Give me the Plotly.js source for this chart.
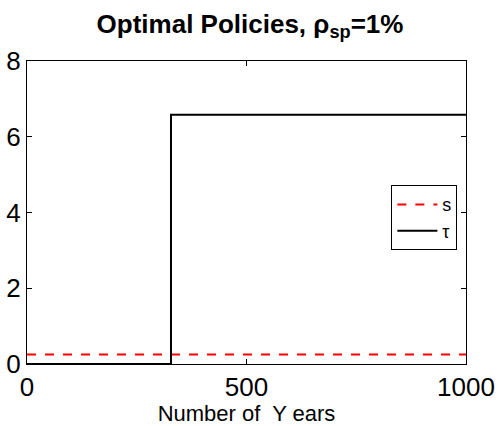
<!DOCTYPE html>
<html>
<head>
<meta charset="utf-8">
<script src="https://cdn.plot.ly/plotly-3.0.1.min.js"></script>
<style>html,body{margin:0;padding:0;background:#fff;}#chart{width:500px;height:426px;}</style>
</head>
<body>
<div id="chart"></div>
<script>
// Data
const years = [0, 328, 1000];
const sValues = [0.25, 0.25, 0.25];
const tauValues = [0, 6.58, 6.58];
const xTicks = [0, 500, 1000];
const yTicks = [0, 2, 4, 6, 8];

const traces = [
  {x: years, y: sValues, name: 's', mode: 'lines', line: {color: '#ff0000', dash: 'dash', width: 2}},
  {x: years, y: tauValues, name: 'τ', mode: 'lines', line: {color: '#000000', width: 2, shape: 'hv'}}
];

const layout = {
  width: 500, height: 426,
  margin: {l: 27, r: 34, t: 61, b: 62, pad: 0},
  paper_bgcolor: '#fff', plot_bgcolor: '#fff',
  font: {family: 'Liberation Sans, Arial, sans-serif', color: '#000'},
  title: {text: '<b>Optimal Policies, ρ<sub>sp</sub>=1%</b>', font: {size: 26, color: '#000'}, x: 0.5, xanchor: 'center', y: 0.945, yanchor: 'middle'},
  xaxis: {
    range: [0, 1000], tickvals: xTicks, ticktext: xTicks.map(String),
    ticks: 'inside', ticklen: 5, tickcolor: '#000', showgrid: false, zeroline: false,
    showline: true, linecolor: '#000', linewidth: 1, mirror: 'ticks',
    tickfont: {size: 26}, title: {text: 'Number of  Y ears', font: {size: 22}, standoff: 0}
  },
  yaxis: {
    range: [0, 8], tickvals: yTicks, ticktext: yTicks.map(String),
    ticks: 'inside', ticklen: 5, tickcolor: '#000', showgrid: false, zeroline: false,
    showline: true, linecolor: '#000', linewidth: 1, mirror: 'ticks',
    tickfont: {size: 26}
  },
  legend: {x: 0.83, y: 0.59, xanchor: 'left', yanchor: 'top', bordercolor: '#000', borderwidth: 1, bgcolor: '#fff', font: {size: 18}, tracegroupgap: 0, itemwidth: 40},
  showlegend: true
};

Plotly.newPlot('chart', traces, layout, {displayModeBar: false, staticPlot: true});
</script>
</body>
</html>
